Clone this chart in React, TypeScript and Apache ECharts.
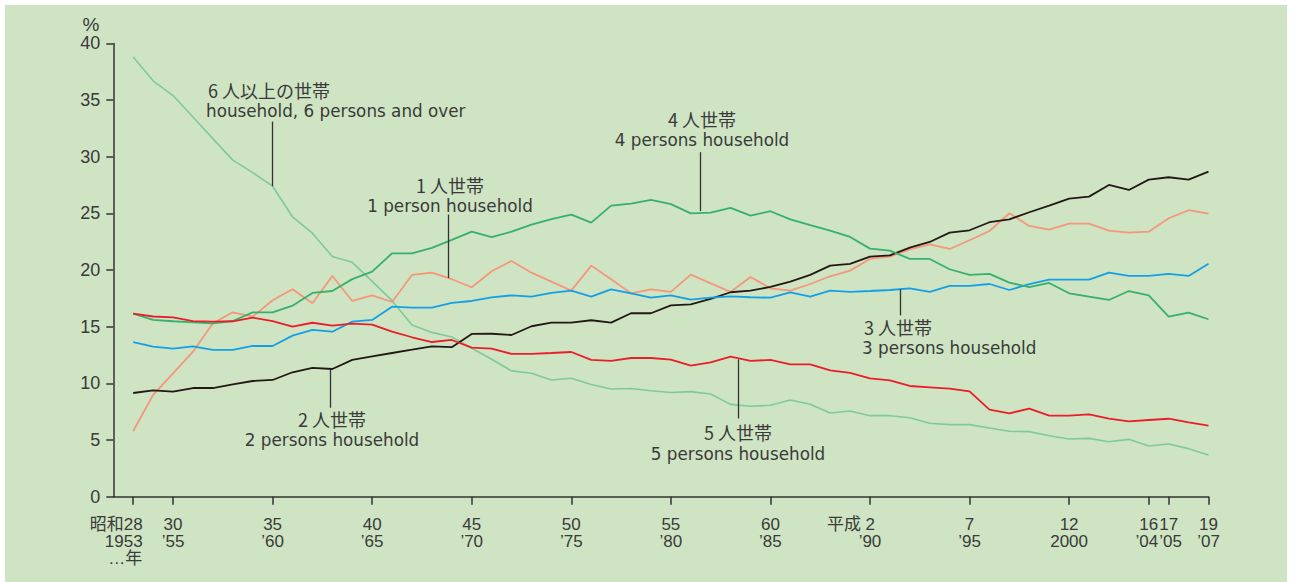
import React, { useEffect, useRef } from "react";
import * as echarts from "echarts";

const years = [1953, 1954, 1955, 1956, 1957, 1958, 1959, 1960, 1961, 1962, 1963, 1964, 1965, 1966, 1967, 1968, 1969, 1970, 1971, 1972, 1973, 1974, 1975, 1976, 1977, 1978, 1979, 1980, 1981, 1982, 1983, 1984, 1985, 1986, 1987, 1988, 1989, 1990, 1991, 1992, 1993, 1994, 1995, 1996, 1997, 1998, 1999, 2000, 2001, 2002, 2003, 2004, 2005, 2006, 2007];

const onePerson = [5.8, 8.98, 10.89, 12.8, 15.3, 16.27, 15.89, 17.33, 18.3, 17.07, 19.48, 17.27, 17.77, 17.18, 19.57, 19.77, 19.19, 18.48, 19.89, 20.8, 19.77, 18.98, 18.18, 20.39, 19.19, 17.95, 18.3, 18.07, 19.6, 18.83, 18.07, 19.39, 18.39, 18.18, 18.77, 19.45, 19.95, 20.98, 21.18, 21.83, 22.27, 21.86, 22.63, 23.45, 25.01, 23.89, 23.57, 24.1, 24.1, 23.48, 23.3, 23.39, 24.57, 25.28, 24.98];
const twoPersons = [9.15, 9.39, 9.27, 9.59, 9.59, 9.92, 10.21, 10.3, 10.98, 11.37, 11.27, 12.07, 12.39, 12.68, 12.97, 13.27, 13.19, 14.36, 14.38, 14.27, 15.04, 15.36, 15.36, 15.57, 15.36, 16.19, 16.19, 16.89, 16.98, 17.45, 18.04, 18.18, 18.51, 18.98, 19.57, 20.39, 20.55, 21.18, 21.3, 21.98, 22.48, 23.3, 23.51, 24.22, 24.48, 25.1, 25.68, 26.3, 26.48, 27.51, 27.07, 27.98, 28.19, 27.98, 28.69];
const threePersons = [13.65, 13.24, 13.06, 13.27, 12.95, 12.95, 13.3, 13.3, 14.21, 14.72, 14.56, 15.45, 15.6, 16.77, 16.68, 16.68, 17.1, 17.27, 17.58, 17.77, 17.65, 17.98, 18.18, 17.65, 18.3, 17.95, 17.56, 17.76, 17.39, 17.56, 17.68, 17.6, 17.56, 18.04, 17.65, 18.18, 18.07, 18.15, 18.24, 18.39, 18.07, 18.6, 18.6, 18.77, 18.24, 18.76, 19.15, 19.15, 19.15, 19.77, 19.48, 19.48, 19.66, 19.48, 20.56];
const fourPersons = [16.15, 15.6, 15.48, 15.39, 15.3, 15.5, 16.27, 16.27, 16.86, 17.98, 18.15, 19.2, 19.86, 21.48, 21.48, 21.95, 22.66, 23.39, 22.9, 23.39, 24.0, 24.5, 24.89, 24.18, 25.68, 25.86, 26.19, 25.82, 25.0, 25.07, 25.48, 24.8, 25.19, 24.47, 23.96, 23.48, 22.92, 21.89, 21.71, 20.98, 20.98, 20.07, 19.57, 19.66, 18.89, 18.5, 18.86, 17.95, 17.65, 17.36, 18.15, 17.77, 15.89, 16.24, 15.66];
const fivePersons = [16.15, 15.9, 15.83, 15.5, 15.45, 15.48, 15.8, 15.5, 15.0, 15.35, 15.1, 15.27, 15.18, 14.56, 14.07, 13.65, 13.83, 13.15, 13.06, 12.6, 12.6, 12.68, 12.77, 12.07, 11.98, 12.24, 12.24, 12.1, 11.56, 11.86, 12.36, 11.98, 12.07, 11.68, 11.68, 11.15, 10.92, 10.45, 10.27, 9.77, 9.65, 9.53, 9.3, 7.68, 7.36, 7.78, 7.15, 7.15, 7.27, 6.88, 6.65, 6.77, 6.88, 6.56, 6.27];
const sixAndOver = [38.8, 36.7, 35.4, 33.5, 31.6, 29.7, 28.6, 27.4, 24.7, 23.25, 21.2, 20.68, 19.0, 17.3, 15.15, 14.5, 14.1, 13.1, 12.13, 11.1, 10.9, 10.3, 10.45, 9.9, 9.5, 9.55, 9.35, 9.2, 9.27, 9.06, 8.15, 7.98, 8.07, 8.53, 8.15, 7.39, 7.56, 7.15, 7.15, 6.97, 6.48, 6.36, 6.36, 6.06, 5.77, 5.74, 5.38, 5.09, 5.15, 4.85, 5.06, 4.47, 4.65, 4.24, 3.68];

const tickYears = [1953, 1955, 1960, 1965, 1970, 1975, 1980, 1985, 1990, 1995, 2000, 2004, 2005, 2007];
const eraLabels = ["昭和28", "30", "35", "40", "45", "50", "55", "60", "平成 2", "7", "12", "16", "17", "19"];
const westernLabels = ["1953", "’55", "’60", "’65", "’70", "’75", "’80", "’85", "’90", "’95", "2000", "’04", "’05", "’07"];
const yearUnitLabel = "…年";

const seriesNames = ["1 人世帯", "2 人世帯", "3 人世帯", "4 人世帯", "5 人世帯", "6 人以上の世帯"];
const seriesValues = [onePerson, twoPersons, threePersons, fourPersons, fivePersons, sixAndOver];
const seriesColors = ["#f4977b", "#231815", "#14a0e6", "#37b06b", "#ea1d2c", "#7fca9b"];

const FONT = '"Liberation Sans", Arial, "Noto Sans CJK JP", sans-serif';
const EN_FONT = '"DejaVu Sans", sans-serif';
const JP_FONT = '"Noto Sans CJK JP", sans-serif';
const TEXT = "#3a3a3a";

// leader lines in data coordinates
const leaders = [
  { x: 1960, y0: 27.4, y1: 33.1 },
  { x: 1968.8, y0: 19.3, y1: 24.9 },
  { x: 1981.5, y0: 25.2, y1: 30.4 },
  { x: 1962.9, y0: 7.85, y1: 11.24 },
  { x: 1983.4, y0: 6.9, y1: 12.12 },
  { x: 1991.5, y0: 16.0, y1: 18.3 },
];

// annotation texts (pixel positions)
const annotations = [
  { jp: "6 人以上の世帯", en: "household, 6 persons and over", x: 206, jy: 90, ey: 111, align: "left" },
  { jp: "1 人世帯", en: "1 person household", x: 450, jy: 185, ey: 206, align: "center" },
  { jp: "4 人世帯", en: "4 persons household", x: 702, jy: 119, ey: 140, align: "center" },
  { jp: "2 人世帯", en: "2 persons household", x: 332, jy: 418.5, ey: 439.5, align: "center" },
  { jp: "5 人世帯", en: "5 persons household", x: 738, jy: 432, ey: 454, align: "center" },
  { jp: "3 人世帯", en: "3 persons household", x: 862, jy: 326.5, ey: 347.5, align: "left" },
];

export default function App() {
  const ref = useRef<HTMLDivElement>(null);
  useEffect(() => {
    if (!ref.current) return;
    const chart = echarts.init(ref.current, null, { renderer: "svg" });

    const graphics: any[] = [
      {
        type: "text",
        x: 91,
        y: 24,
        style: { text: "%", font: `19px ${FONT}`, fill: TEXT, align: "center", verticalAlign: "middle" },
      },
    ];
    annotations.forEach((a) => {
      graphics.push({
        type: "text",
        x: a.x + (a.align === "left" ? 2 : 0),
        y: a.jy,
        style: { text: a.jp, font: `18px ${JP_FONT}`, fill: TEXT, align: a.align, verticalAlign: "middle" },
      });
      graphics.push({
        type: "text",
        x: a.x,
        y: a.ey,
        style: { text: a.en, font: `16.8px ${EN_FONT}`, fill: TEXT, align: a.align, verticalAlign: "middle" },
      });
    });

    const lineSeries = seriesValues.map((vals, i) => ({
      name: seriesNames[i],
      type: "line",
      data: years.map((y, k) => [y, vals[k]]),
      symbol: "none",
      lineStyle: { color: seriesColors[i], width: i === 5 ? 1.6 : 1.8 },
      itemStyle: { color: seriesColors[i] },
      z: i === 5 ? 1 : 2,
    }));

    const labelFormatter = (v: number) => {
      const year = Math.round(v);
      const i = tickYears.indexOf(year);
      if (i < 0) return "";
      if (i === 0)
        return `{t|${eraLabels[i]}}{p34|}\n{t|${westernLabels[i]}}{p19|}\n{t|${yearUnitLabel}}{p16|}`;
      if (year === 1990) return `{t|${eraLabels[i]}}{p38|}\n{t|${westernLabels[i]}}`;
      if (year === 2004) return `{t|${eraLabels[i]}}\n{t|${westernLabels[i]}}{p4|}`;
      if (year === 2005) return `{t|${eraLabels[i]}}\n{p4|}{t|${westernLabels[i]}}`;
      return `{t|${eraLabels[i]}}\n{t|${westernLabels[i]}}`;
    };

    chart.setOption({
      animation: false,
      grid: { left: 113.3, right: 83.5, top: 43.4, bottom: 85.3, containLabel: false },
      xAxis: {
        type: "value",
        min: 1952,
        max: 2007,
        splitLine: { show: false },
        axisLine: { show: true, lineStyle: { color: "#333", width: 1.5 } },
        axisTick: { show: true, customValues: tickYears, length: 8, lineStyle: { color: "#333", width: 1.5 } },
        axisLabel: {
          show: true,
          customValues: tickYears,
          margin: 19,
          hideOverlap: false,
          formatter: labelFormatter,
          rich: {
            t: { fontFamily: FONT, fontSize: 17, lineHeight: 17, color: TEXT },
            p34: { width: 34, height: 17 },
            p19: { width: 19, height: 17 },
            p16: { width: 16, height: 17 },
            p38: { width: 38, height: 17 },
            p4: { width: 4, height: 17 },
          },
        },
      },
      yAxis: {
        type: "value",
        min: 0,
        max: 40,
        interval: 5,
        splitLine: { show: false },
        axisLine: { show: true, lineStyle: { color: "#333", width: 1.5 } },
        axisTick: { show: true, length: 7, lineStyle: { color: "#333", width: 1.5 } },
        axisLabel: { margin: 13, fontFamily: FONT, fontSize: 18, color: TEXT },
      },
      series: [
        ...lineSeries,
        {
          type: "line",
          data: [],
          silent: true,
          markLine: {
            silent: true,
            symbol: ["none", "none"],
            label: { show: false },
            lineStyle: { color: "#333", width: 1.3, type: "solid" },
            data: leaders.map((l) => [{ coord: [l.x, l.y0] }, { coord: [l.x, l.y1] }]),
          },
        },
      ],
      graphic: graphics,
    });
    return () => chart.dispose();
  }, []);

  return (
    <div style={{ position: "absolute", left: 0, top: 0, width: 1292, height: 582, background: "#ffffff", overflow: "hidden" }}>
      <div style={{ position: "absolute", left: 5, top: 5, width: 1282, height: 577, background: "#cee4c3" }} />
      <div ref={ref} style={{ position: "absolute", left: 0, top: 0, width: 1292, height: 582 }} />
    </div>
  );
}
